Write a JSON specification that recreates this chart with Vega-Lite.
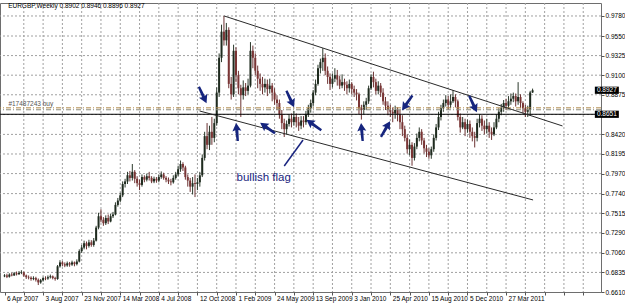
{
  "$schema": "https://vega.github.io/schema/vega-lite/v6.json",
  "width": 601,
  "height": 289,
  "autosize": {"type": "none"},
  "padding": {"left": 0, "top": 3, "right": 24, "bottom": 14},
  "background": "white",
  "config": {
    "view": {"stroke": "#6e6e6e", "strokeWidth": 1},
    "font": "Liberation Sans",
    "axis": {
      "grid": false,
      "tickCount": 200,
      "labelOverlap": false,
      "labelFlush": false,
      "labelBound": false,
      "labelFontSize": 6.5,
      "labelColor": "#000000",
      "tickSize": 3,
      "tickColor": "#555555",
      "domain": false,
      "title": null
    }
  },
  "datasets": {
    "gridx": [
      {"g":8},{"g":16},{"g":24},{"g":32},{"g":40},{"g":48},{"g":56},{"g":64},{"g":72},{"g":80},
      {"g":88},{"g":96},{"g":104},{"g":112},{"g":120},{"g":128},{"g":136},{"g":144},{"g":152},{"g":160},
      {"g":168},{"g":176},{"g":184},{"g":192},{"g":200},{"g":208},{"g":216},{"g":224},{"g":232},{"g":240}
    ],
    "gridy": [
      {"g":0.9780},{"g":0.9550},{"g":0.9325},{"g":0.9100},{"g":0.8875},{"g":0.8648},{"g":0.8420},
      {"g":0.8195},{"g":0.7970},{"g":0.7740},{"g":0.7515},{"g":0.7290},{"g":0.7060},{"g":0.6835}
    ],
    "candles": [
      {"w":0,"o":0.6790,"h":0.6815,"l":0.6780,"c":0.6800},
      {"w":1,"o":0.6800,"h":0.6820,"l":0.6770,"c":0.6785},
      {"w":2,"o":0.6785,"h":0.6825,"l":0.6775,"c":0.6810},
      {"w":3,"o":0.6810,"h":0.6830,"l":0.6790,"c":0.6800},
      {"w":4,"o":0.6800,"h":0.6840,"l":0.6795,"c":0.6825},
      {"w":5,"o":0.6825,"h":0.6845,"l":0.6800,"c":0.6815},
      {"w":6,"o":0.6815,"h":0.6850,"l":0.6805,"c":0.6830},
      {"w":7,"o":0.6830,"h":0.6860,"l":0.6815,"c":0.6835},
      {"w":8,"o":0.6835,"h":0.6845,"l":0.6785,"c":0.6800},
      {"w":9,"o":0.6800,"h":0.6810,"l":0.6760,"c":0.6780},
      {"w":10,"o":0.6780,"h":0.6800,"l":0.6755,"c":0.6775},
      {"w":11,"o":0.6775,"h":0.6790,"l":0.6740,"c":0.6760},
      {"w":12,"o":0.6760,"h":0.6790,"l":0.6745,"c":0.6770},
      {"w":13,"o":0.6770,"h":0.6785,"l":0.6730,"c":0.6750},
      {"w":14,"o":0.6750,"h":0.6765,"l":0.6690,"c":0.6720},
      {"w":15,"o":0.6720,"h":0.6760,"l":0.6705,"c":0.6745},
      {"w":16,"o":0.6745,"h":0.6785,"l":0.6730,"c":0.6770},
      {"w":17,"o":0.6770,"h":0.6790,"l":0.6745,"c":0.6765},
      {"w":18,"o":0.6765,"h":0.6800,"l":0.6750,"c":0.6780},
      {"w":19,"o":0.6780,"h":0.6810,"l":0.6765,"c":0.6790},
      {"w":20,"o":0.6790,"h":0.6800,"l":0.6755,"c":0.6770},
      {"w":21,"o":0.6770,"h":0.6785,"l":0.6740,"c":0.6760},
      {"w":22,"o":0.6760,"h":0.6920,"l":0.6750,"c":0.6905},
      {"w":23,"o":0.6905,"h":0.6975,"l":0.6890,"c":0.6950},
      {"w":24,"o":0.6950,"h":0.6965,"l":0.6905,"c":0.6930},
      {"w":25,"o":0.6930,"h":0.6950,"l":0.6895,"c":0.6915},
      {"w":26,"o":0.6915,"h":0.6960,"l":0.6900,"c":0.6940},
      {"w":27,"o":0.6940,"h":0.6955,"l":0.6900,"c":0.6925},
      {"w":28,"o":0.6925,"h":0.6970,"l":0.6910,"c":0.6950},
      {"w":29,"o":0.6950,"h":0.6960,"l":0.6905,"c":0.6930},
      {"w":30,"o":0.6930,"h":0.6985,"l":0.6915,"c":0.6960},
      {"w":31,"o":0.6960,"h":0.7100,"l":0.6950,"c":0.7080},
      {"w":32,"o":0.7080,"h":0.7150,"l":0.7060,"c":0.7120},
      {"w":33,"o":0.7120,"h":0.7200,"l":0.7100,"c":0.7170},
      {"w":34,"o":0.7170,"h":0.7190,"l":0.7100,"c":0.7140},
      {"w":35,"o":0.7140,"h":0.7210,"l":0.7120,"c":0.7180},
      {"w":36,"o":0.7180,"h":0.7205,"l":0.7130,"c":0.7150},
      {"w":37,"o":0.7150,"h":0.7230,"l":0.7130,"c":0.7200},
      {"w":38,"o":0.7200,"h":0.7370,"l":0.7190,"c":0.7350},
      {"w":39,"o":0.7350,"h":0.7520,"l":0.7330,"c":0.7480},
      {"w":40,"o":0.7480,"h":0.7560,"l":0.7410,"c":0.7440},
      {"w":41,"o":0.7440,"h":0.7470,"l":0.7370,"c":0.7400},
      {"w":42,"o":0.7400,"h":0.7490,"l":0.7380,"c":0.7460},
      {"w":43,"o":0.7460,"h":0.7500,"l":0.7390,"c":0.7420},
      {"w":44,"o":0.7420,"h":0.7510,"l":0.7410,"c":0.7480},
      {"w":45,"o":0.7480,"h":0.7530,"l":0.7460,"c":0.7500},
      {"w":46,"o":0.7500,"h":0.7640,"l":0.7490,"c":0.7610},
      {"w":47,"o":0.7610,"h":0.7690,"l":0.7590,"c":0.7660},
      {"w":48,"o":0.7660,"h":0.7750,"l":0.7640,"c":0.7720},
      {"w":49,"o":0.7720,"h":0.7880,"l":0.7700,"c":0.7850},
      {"w":50,"o":0.7850,"h":0.7910,"l":0.7810,"c":0.7880},
      {"w":51,"o":0.7880,"h":0.7990,"l":0.7850,"c":0.7950},
      {"w":52,"o":0.7950,"h":0.8000,"l":0.7880,"c":0.7920},
      {"w":53,"o":0.7920,"h":0.8080,"l":0.7890,"c":0.7990},
      {"w":54,"o":0.7990,"h":0.8010,"l":0.7860,"c":0.7910},
      {"w":55,"o":0.7910,"h":0.7940,"l":0.7820,"c":0.7860},
      {"w":56,"o":0.7860,"h":0.7900,"l":0.7780,"c":0.7840},
      {"w":57,"o":0.7840,"h":0.7960,"l":0.7820,"c":0.7930},
      {"w":58,"o":0.7930,"h":0.7950,"l":0.7870,"c":0.7900},
      {"w":59,"o":0.7900,"h":0.7970,"l":0.7880,"c":0.7940},
      {"w":60,"o":0.7940,"h":0.7990,"l":0.7890,"c":0.7920},
      {"w":61,"o":0.7920,"h":0.7940,"l":0.7860,"c":0.7880},
      {"w":62,"o":0.7880,"h":0.7935,"l":0.7860,"c":0.7910},
      {"w":63,"o":0.7910,"h":0.7930,"l":0.7865,"c":0.7890},
      {"w":64,"o":0.7890,"h":0.7960,"l":0.7870,"c":0.7930},
      {"w":65,"o":0.7930,"h":0.7995,"l":0.7910,"c":0.7960},
      {"w":66,"o":0.7960,"h":0.7980,"l":0.7900,"c":0.7920},
      {"w":67,"o":0.7920,"h":0.7940,"l":0.7870,"c":0.7900},
      {"w":68,"o":0.7900,"h":0.7925,"l":0.7850,"c":0.7880},
      {"w":69,"o":0.7880,"h":0.7910,"l":0.7835,"c":0.7870},
      {"w":70,"o":0.7870,"h":0.7950,"l":0.7855,"c":0.7920},
      {"w":71,"o":0.7920,"h":0.7990,"l":0.7900,"c":0.7960},
      {"w":72,"o":0.7960,"h":0.8060,"l":0.7940,"c":0.8020},
      {"w":73,"o":0.8020,"h":0.8120,"l":0.7990,"c":0.8080},
      {"w":74,"o":0.8080,"h":0.8100,"l":0.8000,"c":0.8040},
      {"w":75,"o":0.8040,"h":0.8060,"l":0.7900,"c":0.7930},
      {"w":76,"o":0.7930,"h":0.7960,"l":0.7820,"c":0.7890},
      {"w":77,"o":0.7890,"h":0.7920,"l":0.7760,"c":0.7820},
      {"w":78,"o":0.7820,"h":0.7930,"l":0.7730,"c":0.7860},
      {"w":79,"o":0.7860,"h":0.7960,"l":0.7700,"c":0.7850},
      {"w":80,"o":0.7850,"h":0.7920,"l":0.7780,"c":0.7870},
      {"w":81,"o":0.7870,"h":0.7990,"l":0.7820,"c":0.7950},
      {"w":82,"o":0.7950,"h":0.8190,"l":0.7930,"c":0.8150},
      {"w":83,"o":0.8150,"h":0.8450,"l":0.8120,"c":0.8400},
      {"w":84,"o":0.8400,"h":0.8550,"l":0.8250,"c":0.8300},
      {"w":85,"o":0.8300,"h":0.8520,"l":0.8240,"c":0.8450},
      {"w":86,"o":0.8450,"h":0.8620,"l":0.8300,"c":0.8380},
      {"w":87,"o":0.8380,"h":0.8600,"l":0.8330,"c":0.8550},
      {"w":88,"o":0.8550,"h":0.8960,"l":0.8520,"c":0.8900},
      {"w":89,"o":0.8900,"h":0.9350,"l":0.8850,"c":0.9300},
      {"w":90,"o":0.9300,"h":0.9680,"l":0.9250,"c":0.9600},
      {"w":91,"o":0.9600,"h":0.9780,"l":0.9440,"c":0.9500},
      {"w":92,"o":0.9500,"h":0.9700,"l":0.9440,"c":0.9620},
      {"w":93,"o":0.9620,"h":0.9650,"l":0.8950,"c":0.9000},
      {"w":94,"o":0.9000,"h":0.9080,"l":0.8820,"c":0.8880},
      {"w":95,"o":0.8880,"h":0.9450,"l":0.8850,"c":0.9380},
      {"w":96,"o":0.9380,"h":0.9420,"l":0.9020,"c":0.9100},
      {"w":97,"o":0.9100,"h":0.9150,"l":0.8880,"c":0.8950},
      {"w":98,"o":0.8950,"h":0.8990,"l":0.8620,"c":0.8870},
      {"w":99,"o":0.8870,"h":0.9040,"l":0.8820,"c":0.8960},
      {"w":100,"o":0.8960,"h":0.9010,"l":0.8860,"c":0.8920},
      {"w":101,"o":0.8920,"h":0.9060,"l":0.8880,"c":0.8980},
      {"w":102,"o":0.8980,"h":0.9480,"l":0.8960,"c":0.9380},
      {"w":103,"o":0.9380,"h":0.9440,"l":0.9180,"c":0.9300},
      {"w":104,"o":0.9300,"h":0.9350,"l":0.9100,"c":0.9150},
      {"w":105,"o":0.9150,"h":0.9210,"l":0.8950,"c":0.9060},
      {"w":106,"o":0.9060,"h":0.9120,"l":0.8920,"c":0.9000},
      {"w":107,"o":0.9000,"h":0.9080,"l":0.8880,"c":0.8960},
      {"w":108,"o":0.8960,"h":0.9060,"l":0.8900,"c":0.9000},
      {"w":109,"o":0.9000,"h":0.9050,"l":0.8860,"c":0.8940},
      {"w":110,"o":0.8940,"h":0.9060,"l":0.8890,"c":0.8980},
      {"w":111,"o":0.8980,"h":0.9010,"l":0.8800,"c":0.8900},
      {"w":112,"o":0.8900,"h":0.8950,"l":0.8760,"c":0.8820},
      {"w":113,"o":0.8820,"h":0.8870,"l":0.8700,"c":0.8780},
      {"w":114,"o":0.8780,"h":0.8820,"l":0.8600,"c":0.8650},
      {"w":115,"o":0.8650,"h":0.8700,"l":0.8480,"c":0.8550},
      {"w":116,"o":0.8550,"h":0.8600,"l":0.8390,"c":0.8480},
      {"w":117,"o":0.8480,"h":0.8580,"l":0.8420,"c":0.8540},
      {"w":118,"o":0.8540,"h":0.8650,"l":0.8510,"c":0.8600},
      {"w":119,"o":0.8600,"h":0.8660,"l":0.8500,"c":0.8560},
      {"w":120,"o":0.8560,"h":0.8690,"l":0.8520,"c":0.8620},
      {"w":121,"o":0.8620,"h":0.8660,"l":0.8500,"c":0.8560},
      {"w":122,"o":0.8560,"h":0.8620,"l":0.8460,"c":0.8520},
      {"w":123,"o":0.8520,"h":0.8630,"l":0.8480,"c":0.8580},
      {"w":124,"o":0.8580,"h":0.8630,"l":0.8500,"c":0.8560},
      {"w":125,"o":0.8560,"h":0.8690,"l":0.8530,"c":0.8650},
      {"w":126,"o":0.8650,"h":0.8760,"l":0.8620,"c":0.8720},
      {"w":127,"o":0.8720,"h":0.8820,"l":0.8670,"c":0.8780},
      {"w":128,"o":0.8780,"h":0.8930,"l":0.8740,"c":0.8900},
      {"w":129,"o":0.8900,"h":0.9050,"l":0.8870,"c":0.9000},
      {"w":130,"o":0.9000,"h":0.9220,"l":0.8980,"c":0.9180},
      {"w":131,"o":0.9180,"h":0.9290,"l":0.9120,"c":0.9250},
      {"w":132,"o":0.9250,"h":0.9410,"l":0.9150,"c":0.9300},
      {"w":133,"o":0.9300,"h":0.9350,"l":0.9100,"c":0.9150},
      {"w":134,"o":0.9150,"h":0.9200,"l":0.9000,"c":0.9080},
      {"w":135,"o":0.9080,"h":0.9120,"l":0.8930,"c":0.9000},
      {"w":136,"o":0.9000,"h":0.9120,"l":0.8960,"c":0.9060},
      {"w":137,"o":0.9060,"h":0.9180,"l":0.9020,"c":0.9100},
      {"w":138,"o":0.9100,"h":0.9160,"l":0.8980,"c":0.9050},
      {"w":139,"o":0.9050,"h":0.9090,"l":0.8940,"c":0.8980},
      {"w":140,"o":0.8980,"h":0.9110,"l":0.8950,"c":0.9020},
      {"w":141,"o":0.9020,"h":0.9060,"l":0.8920,"c":0.8990},
      {"w":142,"o":0.8990,"h":0.9030,"l":0.8880,"c":0.8950},
      {"w":143,"o":0.8950,"h":0.9050,"l":0.8900,"c":0.9000},
      {"w":144,"o":0.9000,"h":0.9020,"l":0.8880,"c":0.8940},
      {"w":145,"o":0.8940,"h":0.8980,"l":0.8850,"c":0.8900},
      {"w":146,"o":0.8900,"h":0.8940,"l":0.8810,"c":0.8880},
      {"w":147,"o":0.8880,"h":0.8900,"l":0.8650,"c":0.8720},
      {"w":148,"o":0.8720,"h":0.8760,"l":0.8590,"c":0.8700},
      {"w":149,"o":0.8700,"h":0.8800,"l":0.8650,"c":0.8760},
      {"w":150,"o":0.8760,"h":0.8840,"l":0.8700,"c":0.8800},
      {"w":151,"o":0.8800,"h":0.8980,"l":0.8770,"c":0.8950},
      {"w":152,"o":0.8950,"h":0.9110,"l":0.8930,"c":0.9080},
      {"w":153,"o":0.9080,"h":0.9140,"l":0.8960,"c":0.9020},
      {"w":154,"o":0.9020,"h":0.9060,"l":0.8880,"c":0.8920},
      {"w":155,"o":0.8920,"h":0.9030,"l":0.8880,"c":0.8980},
      {"w":156,"o":0.8980,"h":0.9010,"l":0.8850,"c":0.8900},
      {"w":157,"o":0.8900,"h":0.8950,"l":0.8760,"c":0.8800},
      {"w":158,"o":0.8800,"h":0.8850,"l":0.8700,"c":0.8750},
      {"w":159,"o":0.8750,"h":0.8800,"l":0.8640,"c":0.8700},
      {"w":160,"o":0.8700,"h":0.8760,"l":0.8620,"c":0.8680},
      {"w":161,"o":0.8680,"h":0.8730,"l":0.8560,"c":0.8660},
      {"w":162,"o":0.8660,"h":0.8750,"l":0.8600,"c":0.8700},
      {"w":163,"o":0.8700,"h":0.8730,"l":0.8570,"c":0.8650},
      {"w":164,"o":0.8650,"h":0.8700,"l":0.8480,"c":0.8560},
      {"w":165,"o":0.8560,"h":0.8640,"l":0.8400,"c":0.8480},
      {"w":166,"o":0.8480,"h":0.8520,"l":0.8340,"c":0.8380},
      {"w":167,"o":0.8380,"h":0.8420,"l":0.8200,"c":0.8250},
      {"w":168,"o":0.8250,"h":0.8360,"l":0.8180,"c":0.8300},
      {"w":169,"o":0.8300,"h":0.8330,"l":0.8060,"c":0.8150},
      {"w":170,"o":0.8150,"h":0.8320,"l":0.8120,"c":0.8280},
      {"w":171,"o":0.8280,"h":0.8430,"l":0.8250,"c":0.8380},
      {"w":172,"o":0.8380,"h":0.8500,"l":0.8340,"c":0.8450},
      {"w":173,"o":0.8450,"h":0.8480,"l":0.8300,"c":0.8350},
      {"w":174,"o":0.8350,"h":0.8380,"l":0.8200,"c":0.8260},
      {"w":175,"o":0.8260,"h":0.8300,"l":0.8160,"c":0.8220},
      {"w":176,"o":0.8220,"h":0.8260,"l":0.8140,"c":0.8180},
      {"w":177,"o":0.8180,"h":0.8280,"l":0.8140,"c":0.8250},
      {"w":178,"o":0.8250,"h":0.8420,"l":0.8220,"c":0.8380},
      {"w":179,"o":0.8380,"h":0.8540,"l":0.8350,"c":0.8500},
      {"w":180,"o":0.8500,"h":0.8680,"l":0.8470,"c":0.8620},
      {"w":181,"o":0.8620,"h":0.8760,"l":0.8580,"c":0.8720},
      {"w":182,"o":0.8720,"h":0.8820,"l":0.8680,"c":0.8780},
      {"w":183,"o":0.8780,"h":0.8870,"l":0.8740,"c":0.8820},
      {"w":184,"o":0.8820,"h":0.8860,"l":0.8700,"c":0.8760},
      {"w":185,"o":0.8760,"h":0.8880,"l":0.8720,"c":0.8800},
      {"w":186,"o":0.8800,"h":0.8930,"l":0.8780,"c":0.8850},
      {"w":187,"o":0.8850,"h":0.8880,"l":0.8730,"c":0.8800},
      {"w":188,"o":0.8800,"h":0.8820,"l":0.8580,"c":0.8620},
      {"w":189,"o":0.8620,"h":0.8660,"l":0.8440,"c":0.8500},
      {"w":190,"o":0.8500,"h":0.8620,"l":0.8480,"c":0.8560},
      {"w":191,"o":0.8560,"h":0.8600,"l":0.8400,"c":0.8480},
      {"w":192,"o":0.8480,"h":0.8590,"l":0.8440,"c":0.8540},
      {"w":193,"o":0.8540,"h":0.8580,"l":0.8380,"c":0.8450},
      {"w":194,"o":0.8450,"h":0.8500,"l":0.8340,"c":0.8400},
      {"w":195,"o":0.8400,"h":0.8450,"l":0.8270,"c":0.8380},
      {"w":196,"o":0.8380,"h":0.8600,"l":0.8340,"c":0.8550},
      {"w":197,"o":0.8550,"h":0.8650,"l":0.8500,"c":0.8600},
      {"w":198,"o":0.8600,"h":0.8640,"l":0.8460,"c":0.8520},
      {"w":199,"o":0.8520,"h":0.8580,"l":0.8420,"c":0.8480},
      {"w":200,"o":0.8480,"h":0.8600,"l":0.8430,"c":0.8520},
      {"w":201,"o":0.8520,"h":0.8560,"l":0.8380,"c":0.8450},
      {"w":202,"o":0.8450,"h":0.8500,"l":0.8356,"c":0.8420},
      {"w":203,"o":0.8420,"h":0.8560,"l":0.8400,"c":0.8500},
      {"w":204,"o":0.8500,"h":0.8650,"l":0.8480,"c":0.8600},
      {"w":205,"o":0.8600,"h":0.8720,"l":0.8560,"c":0.8680},
      {"w":206,"o":0.8680,"h":0.8770,"l":0.8640,"c":0.8720},
      {"w":207,"o":0.8720,"h":0.8815,"l":0.8680,"c":0.8780},
      {"w":208,"o":0.8780,"h":0.8830,"l":0.8700,"c":0.8750},
      {"w":209,"o":0.8750,"h":0.8860,"l":0.8720,"c":0.8800},
      {"w":210,"o":0.8800,"h":0.8890,"l":0.8760,"c":0.8830},
      {"w":211,"o":0.8830,"h":0.8900,"l":0.8790,"c":0.8860},
      {"w":212,"o":0.8860,"h":0.8890,"l":0.8740,"c":0.8800},
      {"w":213,"o":0.8800,"h":0.9020,"l":0.8760,"c":0.8850},
      {"w":214,"o":0.8850,"h":0.8880,"l":0.8720,"c":0.8780},
      {"w":215,"o":0.8780,"h":0.8800,"l":0.8660,"c":0.8720},
      {"w":216,"o":0.8720,"h":0.8760,"l":0.8620,"c":0.8680},
      {"w":217,"o":0.8680,"h":0.8750,"l":0.8620,"c":0.8700},
      {"w":218,"o":0.8700,"h":0.8920,"l":0.8640,"c":0.8902},
      {"w":219,"o":0.8902,"h":0.8946,"l":0.8896,"c":0.8927}
    ],
    "levels": [
      {"p": 0.8725, "kind": "order"},
      {"p": 0.8703, "kind": "stop"},
      {"p": 0.8651, "kind": "hline"}
    ],
    "trend": [
      {"w1": 91.1, "p1": 0.9780, "w2": 231.4, "p2": 0.8517},
      {"w1": 80.9, "p1": 0.8689, "w2": 219.2, "p2": 0.7667}
    ],
    "pointer": [
      {"w1": 123.8, "p1": 0.8356, "w2": 116.0, "p2": 0.8057}
    ],
    "arrows": [
      {"w": 82.2, "p": 0.8873, "dir": "dr"},
      {"w": 96.4, "p": 0.8448, "dir": "u"},
      {"w": 109.1, "p": 0.8494, "dir": "ul"},
      {"w": 118.5, "p": 0.8827, "dir": "dr"},
      {"w": 128.3, "p": 0.8528, "dir": "ul"},
      {"w": 148.2, "p": 0.8448, "dir": "u"},
      {"w": 158.0, "p": 0.8482, "dir": "ur"},
      {"w": 167.0, "p": 0.8781, "dir": "dl"},
      {"w": 194.3, "p": 0.8769, "dir": "dr"}
    ],
    "prices": [
      {"p": 0.8927, "t": "0.8927"},
      {"p": 0.8651, "t": "0.8651"}
    ]
  },
  "layer": [
    {
      "data": {"name": "gridx"},
      "mark": {"type": "rule", "color": "#a0a0a0", "strokeWidth": 1, "strokeDash": [2, 2]},
      "encoding": {
        "x": {
          "field": "g", "type": "quantitative",
          "scale": {"domain": [0.2, 245.3], "nice": false, "zero": false},
          "axis": {
            "values": [0,8,16,24,32,40,48,56,64,72,80,88,96,104,112,120,128,136,144,152,160,168,176,184,192,200,208,216,224,232,240],
            "labelExpr": "(datum.value % 16 == 0 && datum.value <= 208) ? ['6 Apr 2007','3 Aug 2007','23 Nov 2007','14 Mar 2008','4 Jul 2008','12 Oct 2008','1 Feb 2009','24 May 2009','13 Sep 2009','3 Jan 2010','25 Apr 2010','15 Aug 2010','5 Dec 2010','27 Mar 2011'][datum.value / 16] : ''",
            "labelAlign": "left",
            "labelOffset": 2,
            "labelPadding": 0,
            "tickCount": 200,
            "labelOverlap": false
          }
        }
      }
    },
    {
      "data": {"name": "gridy"},
      "mark": {"type": "rule", "color": "#a0a0a0", "strokeWidth": 1, "strokeDash": [2, 2]},
      "encoding": {
        "y": {
          "field": "g", "type": "quantitative",
          "scale": {"domain": [0.6610, 0.9929], "nice": false, "zero": false},
          "axis": {
            "orient": "right",
            "values": [0.9780,0.9550,0.9325,0.9100,0.8875,0.8420,0.8195,0.7970,0.7740,0.7515,0.7290,0.7060,0.6835,0.6610],
            "format": ".4f",
            "labelPadding": 1,
            "tickCount": 200,
            "labelOverlap": false
          }
        }
      }
    },
    {
      "data": {"name": "candles"},
      "mark": {"type": "rule", "strokeWidth": 1},
      "encoding": {
        "x": {"field": "w", "type": "quantitative"},
        "y": {"field": "l", "type": "quantitative"},
        "y2": {"field": "h"},
        "color": {
          "condition": {"test": "datum.c >= datum.o", "value": "#2c3a2c"},
          "value": "#6b3232"
        }
      }
    },
    {
      "data": {"name": "candles"},
      "mark": {"type": "bar", "size": 2},
      "encoding": {
        "x": {"field": "w", "type": "quantitative"},
        "y": {"field": "o", "type": "quantitative"},
        "y2": {"field": "c"},
        "color": {
          "condition": {"test": "datum.c >= datum.o", "value": "#1f2b1f"},
          "value": "#7a3535"
        }
      }
    },
    {
      "data": {"name": "levels"},
      "transform": [{"filter": "datum.kind == 'order'"}],
      "mark": {"type": "rule", "color": "#b08a4a", "strokeWidth": 1, "strokeDash": [5, 2, 1, 2]},
      "encoding": {"y": {"field": "p", "type": "quantitative"}}
    },
    {
      "data": {"name": "levels"},
      "transform": [{"filter": "datum.kind == 'stop'"}],
      "mark": {"type": "rule", "color": "#8c8c7c", "strokeWidth": 1, "strokeDash": [5, 2, 1, 2]},
      "encoding": {"y": {"field": "p", "type": "quantitative"}}
    },
    {
      "data": {"name": "levels"},
      "transform": [{"filter": "datum.kind == 'hline'"}],
      "mark": {"type": "rule", "color": "#000000", "strokeWidth": 1},
      "encoding": {"y": {"field": "p", "type": "quantitative"}}
    },
    {
      "data": {"name": "trend"},
      "mark": {"type": "rule", "color": "#2a2a2a", "strokeWidth": 1},
      "encoding": {
        "x": {"field": "w1", "type": "quantitative"},
        "y": {"field": "p1", "type": "quantitative"},
        "x2": {"field": "w2"},
        "y2": {"field": "p2"}
      }
    },
    {
      "data": {"name": "pointer"},
      "mark": {"type": "rule", "color": "#1a2580", "strokeWidth": 1.5},
      "encoding": {
        "x": {"field": "w1", "type": "quantitative"},
        "y": {"field": "p1", "type": "quantitative"},
        "x2": {"field": "w2"},
        "y2": {"field": "p2"}
      }
    },
    {
      "data": {"name": "arrows"},
      "mark": {
        "type": "point",
        "filled": true,
        "opacity": 1,
        "color": "#16257e",
        "size": 330,
        "shape": "M0,-1L0.5,-0.1L0.17,-0.2L0.13,1L-0.13,1L-0.17,-0.2L-0.5,-0.1Z"
      },
      "encoding": {
        "x": {"field": "w", "type": "quantitative"},
        "y": {"field": "p", "type": "quantitative"},
        "angle": {
          "condition": [
            {"test": "datum.dir == 'u'", "value": 355},
            {"test": "datum.dir == 'ul'", "value": 305},
            {"test": "datum.dir == 'ur'", "value": 30},
            {"test": "datum.dir == 'dl'", "value": 215}
          ],
          "value": 155
        }
      }
    },
    {
      "data": {"values": [{"w": 1.5, "p": 0.9895, "t": "EURGBP,Weekly  0.8902 0.8946 0.8896 0.8927"}]},
      "mark": {"type": "text", "align": "left", "baseline": "middle", "fontSize": 6.5, "color": "#000000"},
      "encoding": {
        "x": {"field": "w", "type": "quantitative"},
        "y": {"field": "p", "type": "quantitative"},
        "text": {"field": "t"}
      }
    },
    {
      "data": {"values": [{"w": 1.6, "p": 0.8772, "t": "#17487243 buy"}]},
      "mark": {"type": "text", "align": "left", "baseline": "middle", "fontSize": 6.5, "color": "#555555"},
      "encoding": {
        "x": {"field": "w", "type": "quantitative"},
        "y": {"field": "p", "type": "quantitative"},
        "text": {"field": "t"}
      }
    },
    {
      "data": {"values": [{"w": 107.5, "p": 0.7919, "t": "bullish flag"}]},
      "mark": {"type": "text", "align": "center", "baseline": "middle", "fontSize": 11.5, "color": "#1a2580"},
      "encoding": {
        "x": {"field": "w", "type": "quantitative"},
        "y": {"field": "p", "type": "quantitative"},
        "text": {"field": "t"}
      }
    },
    {
      "data": {"name": "prices"},
      "mark": {
        "type": "point", "filled": true, "opacity": 1, "color": "#000000", "size": 576,
        "shape": "M-1,-0.3L1,-0.3L1,0.3L-1,0.3Z"
      },
      "encoding": {
        "x": {"datum": 249.8},
        "y": {"field": "p", "type": "quantitative"}
      }
    },
    {
      "data": {"name": "prices"},
      "mark": {"type": "text", "align": "center", "baseline": "middle", "fontSize": 6.5, "color": "#ffffff"},
      "encoding": {
        "x": {"datum": 249.8},
        "y": {"field": "p", "type": "quantitative"},
        "text": {"field": "t"}
      }
    }
  ]
}
